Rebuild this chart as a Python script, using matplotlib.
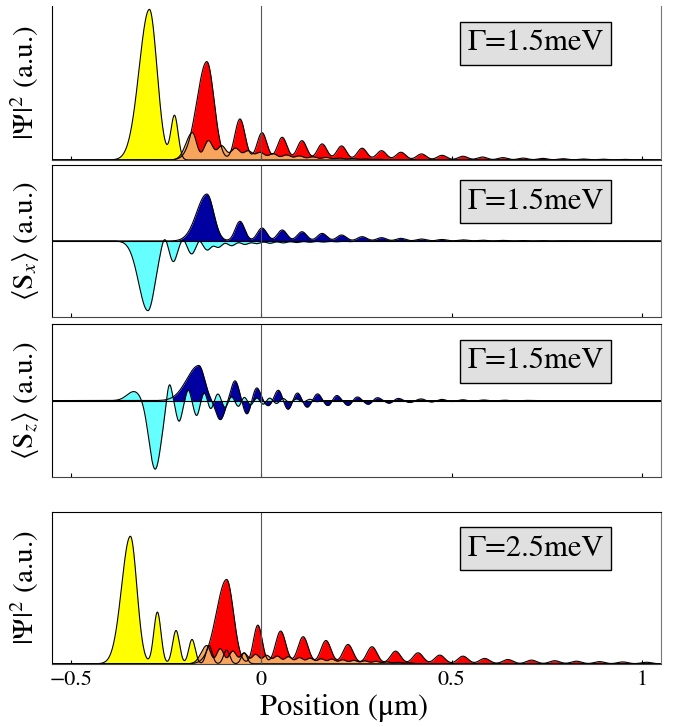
import numpy as np
import matplotlib
matplotlib.use("Agg")
import matplotlib.pyplot as plt

plt.rcParams['font.family'] = 'STIXGeneral'
plt.rcParams['mathtext.fontset'] = 'stix'

# peak positions (um), heights (axis units) and widths
# panel 1, Gamma = 1.5 meV, |Psi|^2
p1_yellow_c = [-0.294, -0.228]
p1_yellow_h = [0.977, 0.286]
p1_yellow_w = [(0.027, 0.020), 0.0095]

p1_red_c = [-0.143, -0.056, 0.002, 0.055, 0.107, 0.160, 0.211, 0.265, 0.316, 0.367, 0.421,
            0.475, 0.530, 0.581, 0.635, 0.688, 0.740, 0.793, 0.846, 0.898, 0.951, 1.004]
p1_red_h = [0.638, 0.266, 0.177, 0.147, 0.125, 0.104, 0.091, 0.076, 0.060, 0.050, 0.039,
            0.030, 0.024, 0.019, 0.015, 0.012, 0.010, 0.008, 0.006, 0.005, 0.004, 0.003]
p1_red_w = [(0.026, 0.019), 0.0135] + [0.0128] * 20

p1_orange_c = [-0.181, -0.139, -0.104, -0.068, -0.035, -0.003, 0.031, 0.066, 0.100, 0.135,
               0.170, 0.205, 0.240, 0.275, 0.310]
p1_orange_h = [0.177, 0.125, 0.091, 0.076, 0.058, 0.048, 0.040, 0.032, 0.026, 0.020,
               0.016, 0.012, 0.009, 0.006, 0.004]
p1_orange_w = [(0.017, 0.011)] + [0.0115] * 14

# panel 2, Gamma = 1.5 meV, <Sx>
p2_cyan_c = [-0.298, -0.255, -0.231, -0.205, -0.183, -0.163, -0.142, -0.113, -0.078, -0.043,
             -0.012, 0.023, 0.058, 0.093, 0.128, 0.163, 0.198, 0.233, 0.268]
p2_cyan_h = [-0.917, 0.10, -0.27, 0.035, -0.17, 0.03, -0.118, -0.083, -0.062, -0.045,
             -0.035, -0.030, -0.025, -0.020, -0.016, -0.013, -0.010, -0.008, -0.006]
p2_cyan_w = [(0.024, 0.019), 0.0075, 0.010, 0.006, 0.010, 0.006] + [0.010] * 13

p2_blue_c = p1_red_c
p2_blue_h = [0.618, 0.259, 0.171, 0.145, 0.122, 0.100, 0.079, 0.057, 0.044, 0.035, 0.026,
             0.020, 0.015, 0.011, 0.008, 0.006, 0.005, 0.004, 0.003, 0.002, 0.002, 0.001]
p2_blue_w = [(0.027, 0.018), 0.0125] + [0.0125] * 20

# panel 3, Gamma = 1.5 meV, <Sz>
p3_cyan_c = [-0.334, -0.279, -0.242, -0.216, -0.192, -0.170, -0.150, -0.133, -0.114, -0.095,
             -0.079, -0.060, -0.045, -0.028, -0.012, 0.005, 0.022, 0.040, 0.057, 0.075,
             0.092, 0.110, 0.128, 0.146]
p3_cyan_h = [0.12, -0.90, 0.265, -0.27, 0.144, -0.196, 0.11, -0.11, 0.09, -0.095,
             0.056, -0.08, 0.05, -0.06, 0.04, -0.05, 0.035, -0.04, 0.03, -0.03,
             0.025, -0.02, 0.018, -0.015]
p3_cyan_w = [0.019, 0.016, 0.007, 0.008, 0.0065, 0.0075] + [0.0068] * 18

p3_blue_c = [-0.164, -0.108, -0.069, -0.038, -0.012, 0.018, 0.045, 0.070, 0.095, 0.120,
             0.148, 0.175, 0.198, 0.228, 0.252, 0.281, 0.305, 0.336, 0.360, 0.390,
             0.420, 0.447, 0.475, 0.500, 0.530, 0.555, 0.585, 0.610, 0.640, 0.665, 0.695]
p3_blue_h = [0.46, -0.25, 0.26, -0.18, 0.17, -0.07, 0.14, -0.12, 0.105, -0.09,
             0.09, -0.07, 0.07, -0.065, 0.05, -0.05, 0.04, -0.035, 0.03, -0.025,
             0.022, -0.018, 0.016, -0.013, 0.011, -0.009, 0.008, -0.006, 0.005, -0.004, 0.003]
p3_blue_w = [(0.032, 0.015), 0.0115, 0.0105] + [0.0095] * 28

# panel 4, Gamma = 2.5 meV, |Psi|^2
p4_yellow_c = [-0.344, -0.273, -0.224, -0.182, -0.137, -0.091, -0.045]
p4_yellow_h = [0.839, 0.34, 0.219, 0.16, 0.12, 0.09, 0.072]
p4_yellow_w = [(0.023, 0.017), 0.0095, 0.009, 0.0085, 0.008, 0.008, 0.0075]

p4_red_c = [-0.091, -0.009, 0.051, 0.110, 0.170, 0.228, 0.291, 0.353, 0.412, 0.469,
            0.530, 0.587, 0.648, 0.710, 0.771, 0.828, 0.889, 0.950, 1.012]
p4_red_h = [0.555, 0.254, 0.215, 0.178, 0.153, 0.127, 0.112, 0.083, 0.072, 0.057,
            0.050, 0.035, 0.028, 0.024, 0.020, 0.017, 0.014, 0.012, 0.010]
p4_red_w = [(0.027, 0.018), 0.0115] + [0.0135] * 17

p4_orange_c = [-0.143, -0.108, -0.075, -0.045, -0.015, 0.014, 0.042, 0.071, 0.100, 0.128,
               0.157, 0.185, 0.214, 0.243, 0.272, 0.301, 0.330, 0.359, 0.388]
p4_orange_h = [0.120, 0.099, 0.083, 0.070, 0.061, 0.055, 0.050, 0.046, 0.040, 0.036,
               0.032, 0.030, 0.026, 0.022, 0.019, 0.016, 0.012, 0.009, 0.006]
p4_orange_w = [(0.015, 0.0095)] + [0.0095] * 18

gammas = ['Γ=1.5meV', 'Γ=1.5meV', 'Γ=1.5meV', 'Γ=2.5meV']
ylabels = [r'$|\Psi|^2$ (a.u.)', r'$\langle\mathrm{S}_x\rangle$ (a.u.)',
           r'$\langle\mathrm{S}_z\rangle$ (a.u.)', r'$|\Psi|^2$ (a.u.)']
xticks = [-0.5, 0, 0.5, 1]
xticklabels = ['−0.5', '0', '0.5', '1']


def pulses(x, centers, heights, widths):
    y = np.zeros_like(x)
    for c, h, w in zip(centers, heights, widths):
        wl, wr = w if isinstance(w, tuple) else (w, w)
        s = np.where(x < c, wl, wr)
        y += h * np.exp(-(x - c) ** 2 / (2 * s ** 2))
    return y


def layer(ax, x, y, color):
    ax.fill_between(x, 0, y, color=color, lw=0)
    ax.plot(x, y, color='black', lw=0.8)


x = np.linspace(-0.55, 1.05, 4000)

fig = plt.figure(figsize=(6.75, 7.27), dpi=100)
boxes = [[0.077, 0.780, 0.902, 0.212],
         [0.077, 0.564, 0.902, 0.209],
         [0.077, 0.344, 0.902, 0.210],
         [0.077, 0.087, 0.902, 0.209]]
axes = [fig.add_axes(b) for b in boxes]

# |Psi|^2 panels
for ax, sets in [(axes[0], [(p1_yellow_c, p1_yellow_h, p1_yellow_w, '#ffff00'),
                            (p1_red_c, p1_red_h, p1_red_w, '#ff0000'),
                            (p1_orange_c, p1_orange_h, p1_orange_w, '#f7a45c')]),
                 (axes[3], [(p4_yellow_c, p4_yellow_h, p4_yellow_w, '#ffff00'),
                            (p4_red_c, p4_red_h, p4_red_w, '#ff0000'),
                            (p4_orange_c, p4_orange_h, p4_orange_w, '#f7a45c')])]:
    for c, h, w, col in sets:
        layer(ax, x, pulses(x, c, h, w), col)
    ax.set_ylim(0, 1.0)

# spin panels
for ax, sets in [(axes[1], [(p2_blue_c, p2_blue_h, p2_blue_w, '#0000a0'),
                            (p2_cyan_c, p2_cyan_h, p2_cyan_w, '#66ffff')]),
                 (axes[2], [(p3_blue_c, p3_blue_h, p3_blue_w, '#0000a0'),
                            (p3_cyan_c, p3_cyan_h, p3_cyan_w, '#66ffff')])]:
    for c, h, w, col in sets:
        layer(ax, x, pulses(x, c, h, w), col)
    ax.axhline(0, color='black', lw=0.8)
    ax.set_ylim(-1, 1)

for i, ax in enumerate(axes):
    ax.axvline(0, color='#555555', lw=0.8)
    ax.set_xlim(-0.55, 1.05)
    ax.set_yticks([])
    ax.set_xticks(xticks)
    ax.tick_params(axis='x', direction='in', length=3, width=0.8, labelsize=16,
                   pad=5, labelbottom=(i == 3))
    if i == 3:
        ax.set_xticklabels(xticklabels)
    for side in ['left', 'top']:
        ax.spines[side].set_color('black')
    ax.spines['right'].set_color('#777777')
    ax.spines['bottom'].set_color('#444444')
    ax.set_ylabel(ylabels[i], fontsize=21)
    ax.yaxis.set_label_coords(-0.018, 0.5)
    ax.text(0.794, 0.757, gammas[i], transform=ax.transAxes, fontsize=22,
            ha='center', va='center',
            bbox=dict(boxstyle='square,pad=0.25', facecolor='#e0e0e0', edgecolor='black', lw=1))
axes[0].spines['top'].set_visible(False)

axes[3].set_xlabel('Position (μm)', fontsize=22)
axes[3].xaxis.set_label_coords(0.48, -0.2)

fig.savefig('out.png', dpi=100)
